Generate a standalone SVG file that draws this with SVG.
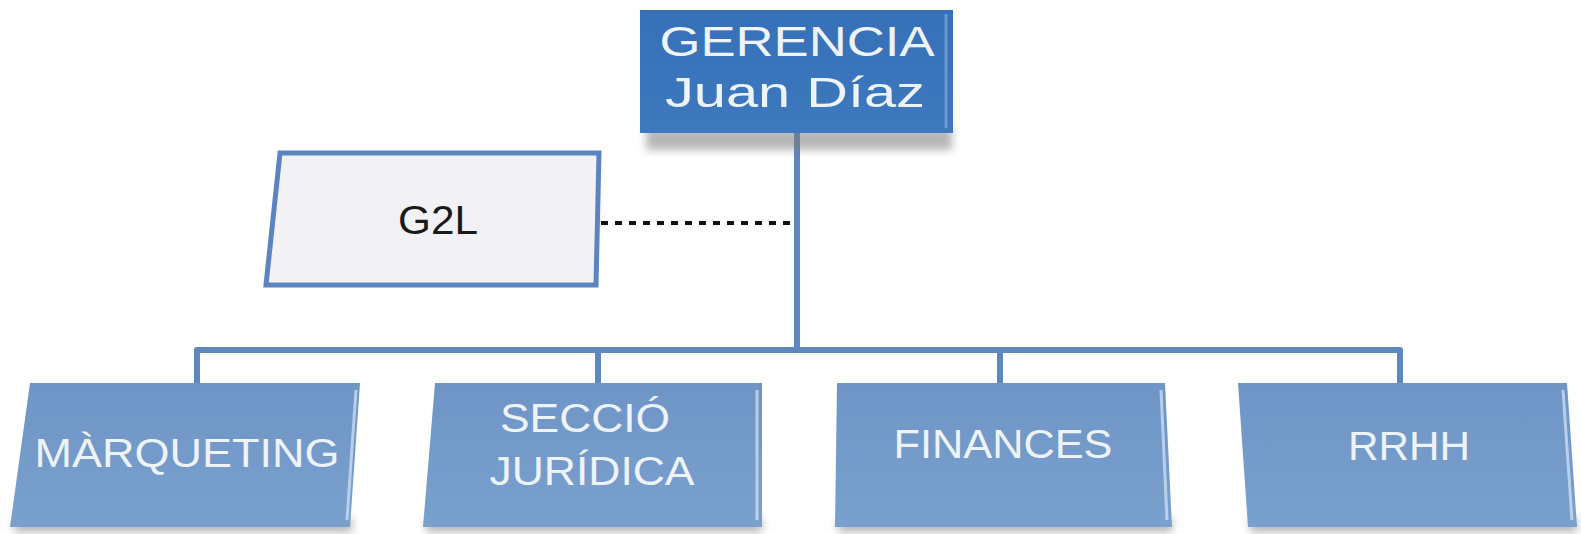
<svg xmlns="http://www.w3.org/2000/svg" width="1581" height="534" viewBox="0 0 1581 534">
<style>
.lnk{fill:none;stroke:#5f87bf;stroke-width:6;stroke-linejoin:round}
.dot{fill:none;stroke:#111;stroke-width:4;stroke-dasharray:7 7}
.dep{fill:url(#gDep)}
.hl{fill:none;stroke:#c9dcf2;stroke-width:3;stroke-opacity:0.8}
.sh{fill:#7a7a7a;opacity:0.55;filter:url(#blur)}
.wt{font-family:"Liberation Sans","Open Sans",sans-serif;fill:#eef3fa;text-anchor:middle}
.bt{font-family:"Liberation Sans","Open Sans",sans-serif;fill:#1a1a1a;text-anchor:middle}
</style>
<defs>
<filter id="blur" x="-10%" y="-30%" width="120%" height="160%"><feGaussianBlur stdDeviation="4"/></filter>
<linearGradient id="gDep" x1="0" y1="0" x2="0" y2="1">
<stop offset="0" stop-color="#6e95c6"/><stop offset="1" stop-color="#7aa0cd"/>
</linearGradient>
<linearGradient id="gTop" x1="0" y1="0" x2="0" y2="1">
<stop offset="0" stop-color="#3670b8"/><stop offset="1" stop-color="#3e78bd"/>
</linearGradient>
</defs>
<rect width="1581" height="534" fill="#ffffff"/>
<g id="connectors">
<path class="lnk" d="M797,133 V350"/>
<path class="lnk" d="M197,383 V350 H1400 V383"/>
<path class="lnk" d="M598,350 V383"/>
<path class="lnk" d="M1000,350 V383"/>
<path class="dot" d="M601,223 H795"/>
</g>
<g id="gerencia">
<rect class="sh" x="646" y="128" width="306" height="22"/>
<rect x="640" y="10" width="313" height="123" fill="url(#gTop)"/>
<path d="M946,14 V128" stroke="#7fa8dc" stroke-width="3" fill="none" opacity="0.7"/>
<text class="wt" x="797" y="56" font-size="42" textLength="275" lengthAdjust="spacingAndGlyphs">GERENCIA</text>
<text class="wt" x="795" y="107" font-size="42" textLength="260" lengthAdjust="spacingAndGlyphs">Juan Díaz</text>
</g>
<g id="g2l">
<polygon points="280,153 599,153 596,285 266,285" fill="#f2f2f4" stroke="#5b84c0" stroke-width="5"/>
<text class="bt" x="438" y="234" font-size="40" textLength="80" lengthAdjust="spacingAndGlyphs">G2L</text>
</g>
<g id="marqueting">
<rect class="sh" x="14" y="518" width="338" height="14"/>
<polygon class="dep" points="30,383 360,383 350,527 10,527"/>
<path class="hl" d="M356,390 L347,520"/>
<text class="wt" x="187" y="467" font-size="41" textLength="305" lengthAdjust="spacingAndGlyphs">MÀRQUETING</text>
</g>
<g id="seccio">
<rect class="sh" x="426" y="518" width="336" height="14"/>
<polygon class="dep" points="435,383 762,383 762,527 423,527"/>
<path class="hl" d="M757,390 L757,520"/>
<text class="wt" x="585" y="432" font-size="40" textLength="170" lengthAdjust="spacingAndGlyphs">SECCIÓ</text>
<text class="wt" x="592" y="485" font-size="40" textLength="205" lengthAdjust="spacingAndGlyphs">JURÍDICA</text>
</g>
<g id="finances">
<rect class="sh" x="838" y="518" width="334" height="14"/>
<polygon class="dep" points="837,383 1165,383 1172,527 835,527"/>
<path class="hl" d="M1161,390 L1167,520"/>
<text class="wt" x="1003" y="458" font-size="40" textLength="219" lengthAdjust="spacingAndGlyphs">FINANCES</text>
</g>
<g id="rrhh">
<rect class="sh" x="1250" y="518" width="327" height="14"/>
<polygon class="dep" points="1238,383 1567,383 1577,527 1248,527"/>
<path class="hl" d="M1563,390 L1572,520"/>
<text class="wt" x="1409" y="460" font-size="40" textLength="122" lengthAdjust="spacingAndGlyphs">RRHH</text>
</g>
</svg>
